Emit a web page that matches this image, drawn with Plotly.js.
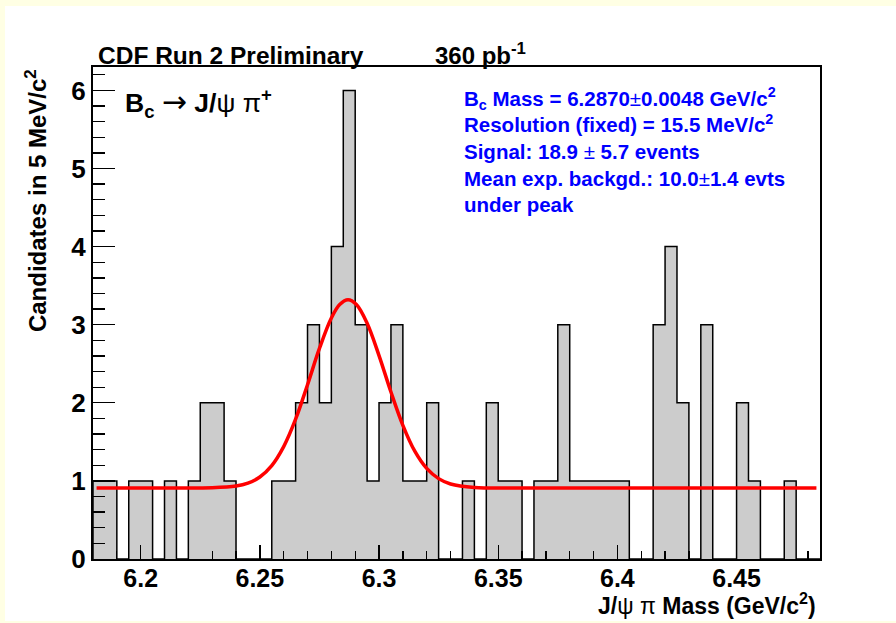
<!DOCTYPE html>
<html>
<head>
<meta charset="utf-8">
<script src="https://cdn.plot.ly/plotly-3.0.1.min.js"></script>
<style>
  html, body { margin: 0; padding: 0; background: rgb(255,255,228); width: 896px; height: 623px; overflow: hidden; }
  #plot { position: absolute; left: 5px; top: 6px; width: 891px; height: 615px; background: #fff; }
</style>
</head>
<body>
<div id="plot"></div>
<script>
// Histogram definition: 61 bins of 5 MeV starting at 6.18 GeV
const binLow = 6.18;
const binWidth = 0.005;
// Candidates per bin
const counts = [1,1,0,1,1,0,1,0,1,2,2,1,0,0,0,1,1,2,3,2,4,6,3,1,2,3,1,1,2,0,
                0,1,0,2,1,1,0,1,1,3,1,1,1,1,1,0,0,3,4,2,0,3,0,0,2,1,0,0,1,0,0];
// Fit curve samples
const curveX = [6.1815, 6.21, 6.23, 6.24, 6.245, 6.25, 6.255, 6.26, 6.265, 6.27, 6.275, 6.28, 6.2835, 6.287,
                6.2905, 6.295, 6.30, 6.305, 6.31, 6.315, 6.32, 6.325, 6.33, 6.34, 6.36, 6.40, 6.45, 6.4835];
const curveY = [0.91, 0.91, 0.913, 0.934, 0.971, 1.05, 1.196, 1.439, 1.79, 2.231, 2.696, 3.086, 3.259, 3.32,
                3.259, 3.019, 2.605, 2.138, 1.712, 1.381, 1.16, 1.029, 0.961, 0.917, 0.91, 0.91, 0.91, 0.91];
// Tick labels
const xTickVals = [6.2, 6.25, 6.3, 6.35, 6.4, 6.45];
const xTickText = ["6.2", "6.25", "6.3", "6.35", "6.4", "6.45"];
const yTickVals = [0, 1, 2, 3, 4, 5, 6];
const yTickText = ["0", "1", "2", "3", "4", "5", "6"];

const centers = counts.map((c, i) => binLow + binWidth * (i + 0.5));
const nb = counts.length;
const binHigh = binLow + binWidth * nb;

// step outline
const stepX = [binLow], stepY = [0];
for (let i = 0; i < nb; i++) { stepX.push(binLow + binWidth * i); stepY.push(counts[i]); }
stepX.push(binHigh); stepY.push(counts[nb - 1]);
stepX.push(binHigh); stepY.push(0);

const FONT = "Liberation Sans, Arial, Helvetica, sans-serif";
const N = (s) => '<span style="font-weight:normal">' + s + '</span>';
const ARROW = '<span style="font-family:DejaVu Sans;font-weight:normal;font-size:30px">\u2192</span>';

const traces = [
  { type: 'bar', x: centers, y: counts, width: binWidth,
    marker: { color: '#cccccc', line: { width: 0 } }, hoverinfo: 'skip', showlegend: false },
  { type: 'scatter', mode: 'lines', x: stepX, y: stepY,
    line: { color: '#000', width: 1.5, shape: 'hv' }, hoverinfo: 'skip', showlegend: false },
  { type: 'scatter', mode: 'lines', x: curveX, y: curveY,
    line: { color: 'rgb(255,0,0)', width: 3.5, shape: 'spline', smoothing: 1 }, hoverinfo: 'skip', showlegend: false }
];

const layout = {
  width: 891, height: 615,
  margin: { l: 88, r: 76, t: 61, b: 62 },
  paper_bgcolor: '#ffffff', plot_bgcolor: '#ffffff',
  bargap: 0,
  font: { family: FONT, color: '#000' },
  xaxis: {
    range: [binLow, binHigh], showgrid: false, zeroline: false,
    showline: true, linecolor: '#000', linewidth: 2, mirror: true,
    ticks: 'inside', ticklen: 14, tickwidth: 1.3, tickcolor: '#000',
    tickmode: 'array', tickvals: xTickVals, ticktext: xTickText,
    tickfont: { family: FONT, size: 25, weight: 'bold', color: '#000' },
    ticklabelstandoff: -4,
    minor: { dtick: 0.01, tick0: 6.18, ticklen: 8, tickwidth: 1.3, tickcolor: '#000', ticks: 'inside', showgrid: false },
    layer: 'above traces'
  },
  yaxis: {
    range: [0, 6.3], showgrid: false, zeroline: false,
    showline: true, linecolor: '#000', linewidth: 2, mirror: true,
    ticks: 'inside', ticklen: 22, tickwidth: 1.3, tickcolor: '#000',
    tickmode: 'array', tickvals: yTickVals, ticktext: yTickText,
    tickfont: { family: FONT, size: 26, weight: 'bold', color: '#000' },
    minor: { dtick: 0.2, tick0: 0, ticklen: 12, tickwidth: 1.3, tickcolor: '#000', ticks: 'inside', showgrid: false },
    layer: 'above traces'
  },
  annotations: [
    { xref: 'paper', yref: 'paper', x: 0.004, y: 0.991, xanchor: 'left', yanchor: 'bottom', showarrow: false,
      text: '<b>CDF Run 2 Preliminary</b>', font: { family: FONT, size: 24.5, color: '#000' } },
    { xref: 'paper', yref: 'paper', x: 0.467, y: 0.991, xanchor: 'left', yanchor: 'bottom', showarrow: false,
      text: '<b>360 pb<sup>-1</sup></b>', font: { family: FONT, size: 24, color: '#000' } },
    { xref: 'paper', yref: 'paper', x: 0.041, y: 0.970, xanchor: 'left', yanchor: 'top', showarrow: false,
      text: '<b>B<sub>c</sub></b> ' + ARROW + ' <b>J/</b>' + N('\u03c8 \u03c0') + '<b><sup>+</sup></b>',
      font: { family: FONT, size: 26.5, color: '#000' } },
    { xref: 'paper', yref: 'paper', x: 0.507, y: 0.970, xanchor: 'left', yanchor: 'top', showarrow: false, align: 'left',
      text: '<b>B<sub>c</sub> Mass = 6.2870</b>' + N('\u00b1') + '<b>0.0048 GeV/c<sup>2</sup></b><br>' +
            '<b>Resolution (fixed) = 15.5 MeV/c<sup>2</sup></b><br>' +
            '<b>Signal: 18.9 </b>' + N('\u00b1') + '<b> 5.7 events</b><br>' +
            '<b>Mean exp. backgd.: 10.0</b>' + N('\u00b1') + '<b>1.4 evts</b><br>' +
            '<b>under peak</b>',
      font: { family: FONT, size: 20.5, color: 'rgb(0,0,255)' } },
    { xref: 'paper', yref: 'paper', x: -0.079, y: 1.0, xanchor: 'center', yanchor: 'top', showarrow: false, textangle: -90,
      text: '<b>Candidates in 5 MeV/c<sup>2</sup></b>', font: { family: FONT, size: 24, color: '#000' } },
    { xref: 'paper', yref: 'paper', x: 0.997, y: -0.057, xanchor: 'right', yanchor: 'top', showarrow: false,
      text: '<b>J/</b>' + N('\u03c8 \u03c0') + '<b> Mass (GeV/c<sup>2</sup>)</b>', font: { family: FONT, size: 23, color: '#000' } }
  ]
};

Plotly.newPlot('plot', traces, layout, { staticPlot: true, displayModeBar: false });
</script>
</body>
</html>
